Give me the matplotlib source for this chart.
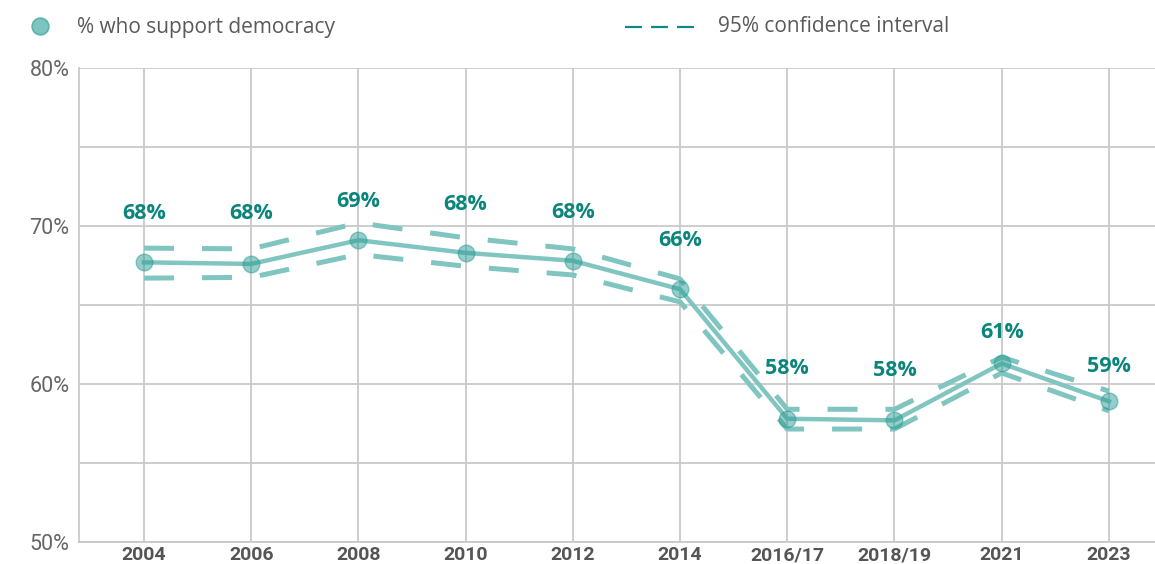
import matplotlib.pyplot as plt
from matplotlib.lines import Line2D

# survey rounds and % who support democracy
years = ['2004', '2006', '2008', '2010', '2012', '2014', '2016/17', '2018/19', '2021', '2023']
support = [67.7, 67.6, 69.1, 68.3, 67.8, 66.0, 57.8, 57.7, 61.3, 58.9]
ci_upper = [68.6, 68.55, 70.2, 69.25, 68.55, 66.65, 58.4, 58.4, 61.7, 59.55]
ci_lower = [66.7, 66.75, 68.2, 67.45, 66.9, 65.2, 57.15, 57.15, 60.7, 58.3]
labels = ['68%', '68%', '69%', '68%', '68%', '66%', '58%', '58%', '61%', '59%']

# vertical offset (points) of each value label above its marker
label_offset = [35, 36, 28, 35, 35, 35, 36, 36, 22, 25]

LINE = '#80c5c0'
MARK = '#2a9d94'
TEXT_TEAL = '#0a857c'
GRID = '#c9c9c9'

fig = plt.figure(figsize=(11.55, 5.64), dpi=100)
ax = fig.add_axes([79 / 1155, 1 - 542 / 564, 1 - 79 / 1155, (542 - 68) / 564])

x = list(range(len(years)))

# confidence interval, dashed
for band in (ci_upper, ci_lower):
    ax.plot(x, band, color=LINE, lw=3.6, dashes=(6.0, 5.6), dash_capstyle='butt', zorder=3)

# main series
ax.plot(x, support, color=LINE, lw=3.2, zorder=4)
ax.plot(x, support, 'o', ms=12, color=MARK, alpha=0.5, mec=MARK, mew=1, zorder=5)

for i, (v, lab) in enumerate(zip(support, labels)):
    ax.annotate(lab, xy=(i, v), xytext=(0, label_offset[i]), textcoords='offset points',
                ha='center', va='center', color=TEXT_TEAL, fontsize=15.5,
                fontweight='bold', family='Open Sans', zorder=6)

ax.set_xlim(-0.606, 9.43)
ax.set_ylim(50, 80)
ax.set_yticks([50, 60, 70, 80])
ax.set_yticks([55, 65, 75], minor=True)
ax.set_yticklabels(['50%', '60%', '70%', '80%'])
ax.set_xticks(x)
ax.set_xticklabels(years)

ax.grid(True, which='both', axis='y', color=GRID, lw=1.3)
ax.grid(True, which='major', axis='x', color=GRID, lw=1.3)
ax.set_axisbelow(True)
for side in ['top', 'right']:
    ax.spines[side].set_visible(False)
for side in ['left', 'bottom']:
    ax.spines[side].set_color(GRID)
    ax.spines[side].set_linewidth(1.3)

ax.tick_params(axis='both', which='both', length=0)
ax.tick_params(axis='y', pad=7, labelsize=15.5, labelcolor='#666666')
ax.tick_params(axis='x', pad=3, labelsize=14, labelcolor='#555555')
for t in ax.get_yticklabels():
    t.set_family('Roboto')
for t in ax.get_xticklabels():
    t.set_family('Roboto')
    t.set_fontweight('bold')

# legend drawn by hand across the top
fig.add_artist(Line2D([40 / 1155], [1 - 26 / 564], marker='o', ms=12, color='#7cc4bf',
                      mec='#5ab3ac', mew=1.2, transform=fig.transFigure))
fig.text(77 / 1155, 1 - 27 / 564, '% who support democracy', ha='left', va='center',
         fontsize=15, color='#5a5a5a', family='Open Sans')
fig.add_artist(Line2D([625 / 1155, 695 / 1155], [1 - 27 / 564, 1 - 27 / 564],
                      color='#0a8a80', lw=1.6, dashes=(7.6, 4.1),
                      transform=fig.transFigure))
fig.text(718 / 1155, 1 - 27 / 564, '95% confidence interval', ha='left', va='center',
         fontsize=15, color='#5a5a5a', family='Open Sans')

fig.savefig('out.png', dpi=100)
